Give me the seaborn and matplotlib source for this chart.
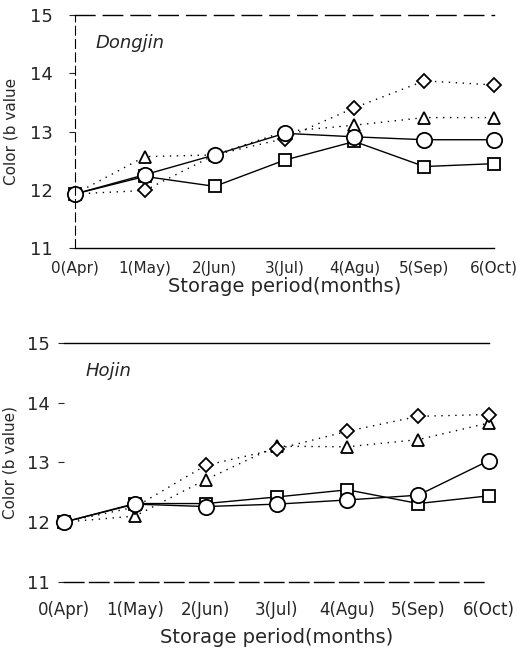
import matplotlib
matplotlib.use("Agg")
import matplotlib.pyplot as plt
import seaborn as sns
import pandas as pd

months = [0, 1, 2, 3, 4, 5, 6]
month_labels = ["0(Apr)", "1(May)", "2(Jun)", "3(Jul)", "4(Agu)", "5(Sep)", "6(Oct)"]

# Dongjin
dong_circle = [11.93, 12.26, 12.60, 12.97, 12.91, 12.86, 12.86]
dong_square = [11.93, 12.23, 12.06, 12.51, 12.83, 12.40, 12.45]
dong_triangle = [11.93, 12.57, 12.60, 13.00, 13.11, 13.24, 13.24]
dong_diamond = [11.93, 11.99, 12.60, 12.88, 13.41, 13.87, 13.80]

# Hojin
hojin_circle = [12.00, 12.30, 12.26, 12.30, 12.37, 12.45, 13.03]
hojin_square = [12.00, 12.31, 12.31, 12.42, 12.54, 12.31, 12.44]
hojin_triangle = [12.00, 12.10, 12.71, 13.27, 13.26, 13.38, 13.66]
hojin_diamond = [12.00, 12.25, 12.95, 13.22, 13.52, 13.77, 13.80]

sns.set_style("white")
plt.rcParams['font.family'] = ['DejaVu Sans']

fig = plt.figure(figsize=(5.17, 6.53), dpi=100)
ax1 = fig.add_axes([0.145, 0.620, 0.811, 0.357])
ax2 = fig.add_axes([0.124, 0.109, 0.822, 0.366])

# (values, marker, markersize, linestyle)
series_top = [
    (dong_triangle, "^", 8, (0, (1, 4))),
    (dong_diamond, "D", 7, (0, (1, 4))),
    (dong_square, "s", 9, "-"),
    (dong_circle, "o", 11, "-"),
]
series_bot = [
    (hojin_triangle, "^", 8, (0, (1, 4))),
    (hojin_diamond, "D", 7, (0, (1, 4))),
    (hojin_square, "s", 9, "-"),
    (hojin_circle, "o", 11, "-"),
]


def draw_panel(ax, series, name, ylabel, xpad, lpad, tfs, xfs, ypad, ylx):
    for vals, mk, ms, ls in series:
        df = pd.DataFrame({"month": months, "b": vals})
        sns.lineplot(data=df, x="month", y="b", ax=ax, color="black",
                     linestyle=ls, linewidth=1.0, marker=mk, markersize=ms,
                     markerfacecolor="white", markeredgecolor="black",
                     markeredgewidth=1.3, clip_on=False)
    ax.set_xlim(0, 6)
    ax.set_ylim(11, 15)
    ax.set_yticks([11, 12, 13, 14, 15])
    ax.set_xticks(months)
    ax.set_xticklabels(month_labels, fontsize=tfs)
    ax.tick_params(axis="y", labelsize=13, length=4, direction="out",
                   left=True, pad=ypad)
    ax.tick_params(axis="x", length=0, pad=xpad)
    ax.set_xlabel("Storage period(months)", fontsize=xfs, labelpad=lpad)
    ax.set_ylabel(ylabel, fontsize=11)
    ax.yaxis.set_label_coords(ylx, 0.5)
    ax.text(0.05, 0.86, name, transform=ax.transAxes, fontsize=13,
            style="italic")
    for s in ["top", "bottom"]:
        ax.spines[s].set_visible(True)
        ax.spines[s].set_color("black")
        ax.spines[s].set_linewidth(1.0)
    ax.spines["right"].set_visible(False)


draw_panel(ax1, series_top, "Dongjin", "Color (b value", 9, 1, 11, 14,
           12, -0.135)
ax1.spines["left"].set_visible(True)
ax1.spines["left"].set_color("black")
ax1.spines["left"].set_linestyle((0, (8, 4)))
ax1.spines["top"].set_linestyle((0, (14, 6)))

draw_panel(ax2, series_bot, "Hojin", "Color (b value)", 14, 6, 12, 14,
           6, -0.11)
ax2.spines["left"].set_visible(False)
ax2.spines["bottom"].set_linestyle((0, (14, 4)))

fig.savefig("out.png", dpi=100)
